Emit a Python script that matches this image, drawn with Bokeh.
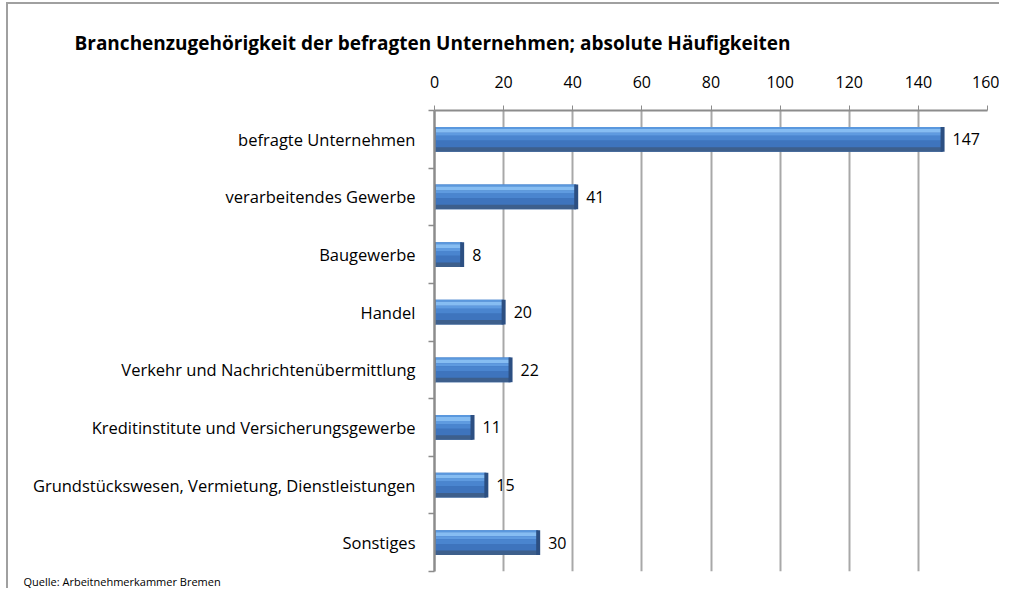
import numpy as np
from bokeh.plotting import figure
from bokeh.models import Range1d, FixedTicker, ColumnDataSource, Title
from bokeh.embed import file_html
from bokeh.resources import INLINE
from bokeh.core.properties import value

categories = [
    "befragte Unternehmen",
    "verarbeitendes Gewerbe",
    "Baugewerbe",
    "Handel",
    "Verkehr und Nachrichtenübermittlung",
    "Kreditinstitute und Versicherungsgewerbe",
    "Grundstückswesen, Vermietung, Dienstleistungen",
    "Sonstiges",
]
counts = [147, 41, 8, 20, 22, 11, 15, 30]
x_ticks = [0, 20, 40, 60, 80, 100, 120, 140, 160]
title_text = "Branchenzugehörigkeit der befragten Unternehmen; absolute Häufigkeiten"
source_text = "Quelle: Arbeitnehmerkammer Bremen"

FONT = "Open Sans"
pos = np.arange(len(categories), dtype=float)
H = 0.43  # bar thickness (fraction of category)

src = ColumnDataSource(dict(cat=categories, val=counts, y=pos,
                            lbl=[str(v) for v in counts]))

p = figure(frame_width=553, frame_height=461,
           x_range=Range1d(0, 160), y_range=Range1d(len(categories) - 0.5, -0.5),
           x_axis_location="above", y_axis_location="left",
           output_backend="svg", toolbar_location=None,
           min_border_left=426, min_border_top=106,
           min_border_right=12, min_border_bottom=0)
p.outline_line_color = None
p.background_fill_color = "white"
p.border_fill_color = "white"

p.title.text = title_text
p.title.align = "left"
p.title.offset = -360
p.title.standoff = 33
p.title.text_font = FONT
p.title.text_font_size = "19px"
p.title.text_font_style = "bold"
p.title.text_color = "black"

xt = FixedTicker(ticks=x_ticks)
p.xaxis.ticker = xt
p.xgrid.ticker = xt
p.xgrid.grid_line_color = "#a8a8a8"
p.xgrid.grid_line_width = 2
p.ygrid.visible = False

ax = p.xaxis[0]
ax.axis_line_color = "#8c8c8c"
ax.axis_line_width = 2
ax.major_tick_out = 5
ax.major_tick_in = 0
ax.major_tick_line_color = "#8c8c8c"
ax.minor_tick_out = 0
ax.minor_tick_in = 0
ax.major_label_text_font = FONT
ax.major_label_text_font_size = "16px"
ax.major_label_text_color = "black"
ax.major_label_standoff = 18

bounds = list(np.arange(len(categories) + 1) - 0.5)
ay = p.yaxis[0]
ay.ticker = FixedTicker(ticks=list(range(len(categories))), minor_ticks=bounds)
ay.major_label_overrides = {i: c for i, c in enumerate(categories)}
ay.axis_line_color = "#8c8c8c"
ay.axis_line_width = 2.5
ay.major_tick_out = 0
ay.major_tick_in = 0
ay.minor_tick_out = 6
ay.minor_tick_in = 0
ay.minor_tick_line_color = "#8c8c8c"
ay.minor_tick_line_width = 1.5
ay.major_label_text_font = FONT
ay.major_label_text_font_size = "16.5px"
ay.major_label_text_color = "black"
ay.major_label_standoff = 13

# bar body with bevel-like bands
p.hbar(y="y", left=0, right="val", height=H, source=src,
       fill_color="#3d72bb", line_color=None)
bands = [  # (start fraction from top, end fraction, color)
    (0.00, 0.08, "#5a98de"),
    (0.08, 0.24, "#86bdf2"),
    (0.24, 0.36, "#5f9be0"),
    (0.36, 0.55, "#4a85cf"),
    (0.55, 0.82, "#3e74bd"),
    (0.82, 1.00, "#3d5f8c"),
]
for a, b, col in bands:
    yc = pos - H / 2 + H * (a + b) / 2
    p.hbar(y=yc, left=0, right=counts, height=H * (b - a),
           fill_color=col, line_color=None)
# end caps
p.rect(x=counts, y=pos, width=4, width_units="screen", height=H,
       fill_color="#2c4f82", line_color=None)
p.rect(x=[0] * len(counts), y=pos, width=3, width_units="screen", height=H,
       fill_color="#2f5c9a", line_color=None)

p.text(x="val", y="y", text="lbl", source=src, x_offset=10,
       text_baseline="middle", text_align="left",
       text_font=value(FONT), text_font_size="16px", text_color="black")

src_note = Title(text=source_text, align="left", offset=-411, standoff=0,
                 text_font=FONT, text_font_size="11px",
                 text_font_style="normal", text_color="black")
p.add_layout(src_note, "below")

p.styles = {"border-left": "2px solid #a0a0a0", "border-top": "2px solid #a0a0a0",
            "margin-left": "6px", "margin-top": "2px"}

open("out.html", "w").write(file_html(p, INLINE))
